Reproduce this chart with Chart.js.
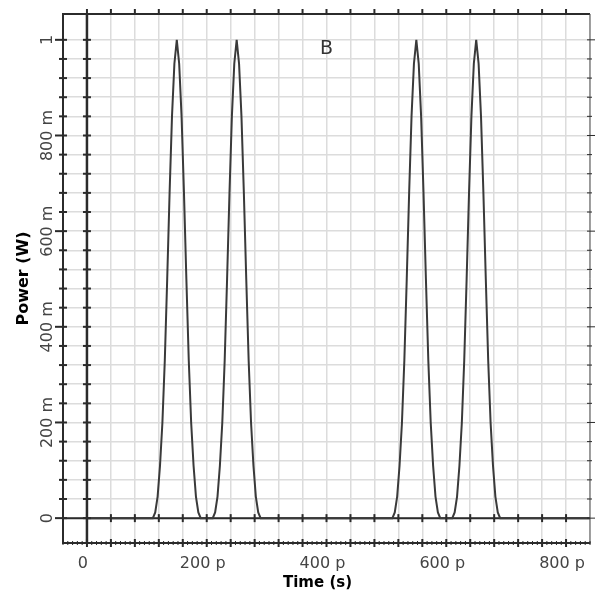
<!DOCTYPE html>
<html>
<head>
<meta charset="UTF-8">
<title>Power (W) vs Time (s)</title>
<script src="https://cdn.jsdelivr.net/npm/chart.js"></script>
<style>
  html, body { margin: 0; padding: 0; background: #fff; }
</style>
</head>
<body>
<canvas id="powerChart" width="609" height="598"></canvas>
<script>
// time in ps, power in W (four pulses)
const timePs = [0,
  110, 114, 118, 122, 126, 130, 134, 138, 142, 146, 150, 154, 158, 162, 166, 170, 174, 178, 182, 186, 190,
  210, 214, 218, 222, 226, 230, 234, 238, 242, 246, 250, 254, 258, 262, 266, 270, 274, 278, 282, 286, 290,
  510, 514, 518, 522, 526, 530, 534, 538, 542, 546, 550, 554, 558, 562, 566, 570, 574, 578, 582, 586, 590,
  610, 614, 618, 622, 626, 630, 634, 638, 642, 646, 650, 654, 658, 662, 666, 670, 674, 678, 682, 686, 690,
  840];
const powerW = [0,
  0, 0.012, 0.045, 0.11, 0.2, 0.33, 0.5, 0.68, 0.84, 0.95, 1, 0.95, 0.84, 0.68, 0.5, 0.33, 0.2, 0.11, 0.045, 0.012, 0,
  0, 0.012, 0.045, 0.11, 0.2, 0.33, 0.5, 0.68, 0.84, 0.95, 1, 0.95, 0.84, 0.68, 0.5, 0.33, 0.2, 0.11, 0.045, 0.012, 0,
  0, 0.012, 0.045, 0.11, 0.2, 0.33, 0.5, 0.68, 0.84, 0.95, 1, 0.95, 0.84, 0.68, 0.5, 0.33, 0.2, 0.11, 0.045, 0.012, 0,
  0, 0.012, 0.045, 0.11, 0.2, 0.33, 0.5, 0.68, 0.84, 0.95, 1, 0.95, 0.84, 0.68, 0.5, 0.33, 0.2, 0.11, 0.045, 0.012, 0,
  0];

const xTickValues = [0, 200, 400, 600, 800];
const xTickLabels = ['0', '200 p', '400 p', '600 p', '800 p'];
const yTickValues = [0, 0.2, 0.4, 0.6, 0.8, 1];
const yTickLabels = ['0', '200 m', '400 m', '600 m', '800 m', '1'];
const xTitle = 'Time (s)';
const markerText = 'B';
const markerAt = [400, 0.98];

function labelFor(values, labels, v) {
  const i = values.findIndex(t => Math.abs(t - v) < 1e-6);
  return i < 0 ? '' : labels[i];
}

function seg(ctx, x1, y1, x2, y2) {
  ctx.beginPath();
  ctx.moveTo(x1, y1);
  ctx.lineTo(x2, y2);
  ctx.stroke();
}

// frame, zero axes, tick marks, rotated y labels, x title and the "B" marker
const framePlugin = {
  id: 'framePlugin',
  beforeDatasetsDraw(chart) {
    const { ctx, chartArea: a, scales: { x, y } } = chart;
    const px0 = x.getPixelForValue(0);
    const py0 = y.getPixelForValue(0);
    ctx.save();
    ctx.strokeStyle = '#2b2b2b';
    ctx.lineWidth = 2.5;
    seg(ctx, px0, a.top, px0, a.bottom);
    ctx.lineWidth = 2;
    seg(ctx, a.left, py0, a.right, py0);
    ctx.restore();
  },
  afterDraw(chart) {
    const { ctx, chartArea: a, scales: { x, y } } = chart;
    const px0 = x.getPixelForValue(0);
    const py0 = y.getPixelForValue(0);
    ctx.save();
    ctx.strokeStyle = '#2b2b2b';

    // top + right frame
    ctx.lineWidth = 2;
    seg(ctx, a.left, a.top, a.right, a.top);
    ctx.lineWidth = 1;
    ctx.strokeStyle = '#555';
    seg(ctx, a.right, a.top, a.right, a.bottom);
    ctx.strokeStyle = '#2b2b2b';

    // y ticks
    y.ticks.forEach(t => {
      const v = t.value;
      if (v < -0.001 || v > 1.045) return;
      const py = y.getPixelForValue(v);
      const major = labelFor(yTickValues, yTickLabels, v) !== '';
      ctx.lineWidth = 2;
      seg(ctx, a.left - (major ? 8 : 4), py, a.left + 4, py);
      seg(ctx, px0 - 4, py, px0 + 4, py);
      ctx.lineWidth = 1;
      seg(ctx, a.right - 3, py, a.right + (major ? 5 : 2), py);
    });

    // x ticks
    x.ticks.forEach(t => {
      const v = t.value;
      if (v < -39 || v > 839) return;
      const px = x.getPixelForValue(v);
      ctx.lineWidth = 2;
      seg(ctx, px, a.top - 5, px, a.top + 1);
      seg(ctx, px, a.bottom - 4, px, a.bottom + 4);
      seg(ctx, px, py0 - 4, px, py0 + 4);
    });
    ctx.lineWidth = 1;
    for (let v = -40; v <= 840; v += 8) {
      const px = x.getPixelForValue(v);
      seg(ctx, px, a.bottom - 2, px, a.bottom + 2);
    }

    // rotated y labels
    ctx.fillStyle = '#444';
    ctx.font = '16px "DejaVu Sans"';
    ctx.textAlign = 'center';
    ctx.textBaseline = 'alphabetic';
    yTickValues.forEach((v, i) => {
      ctx.save();
      ctx.translate(a.left - 11, y.getPixelForValue(v));
      ctx.rotate(-Math.PI / 2);
      ctx.fillText(yTickLabels[i], 0, 0);
      ctx.restore();
    });

    // x title, sits a little left of the plot centre
    ctx.fillStyle = '#000';
    ctx.font = 'bold 15px "DejaVu Sans"';
    ctx.textBaseline = 'middle';
    ctx.fillText(xTitle, x.getPixelForValue(385), 583);

    // marker letter
    ctx.fillStyle = '#333';
    ctx.font = '19px "DejaVu Sans"';
    ctx.fillText(markerText, x.getPixelForValue(markerAt[0]), y.getPixelForValue(markerAt[1]));
    ctx.restore();
  }
};

new Chart(document.getElementById('powerChart'), {
  type: 'line',
  data: {
    labels: timePs,
    datasets: [{
      data: timePs.map((t, i) => ({ x: t, y: powerW[i] })),
      borderColor: '#3a3a3a',
      borderWidth: 2,
      pointRadius: 0,
      tension: 0,
      fill: false
    }]
  },
  options: {
    responsive: false,
    animation: false,
    layout: { padding: { top: 14, right: 19, left: 0, bottom: 0 } },
    plugins: { legend: { display: false }, tooltip: { enabled: false } },
    scales: {
      x: {
        type: 'linear',
        min: -40,
        max: 840,
        afterFit: s => { s.height = 55; },
        border: { display: true, color: '#2b2b2b', width: 2 },
        grid: { color: '#dcdcdc', lineWidth: 1.5, drawTicks: false },
        ticks: {
          stepSize: 40,
          autoSkip: false,
          maxRotation: 0,
          padding: 11,
          labelOffset: -4,
          color: '#444',
          font: { family: 'DejaVu Sans', size: 16 },
          callback: v => labelFor(xTickValues, xTickLabels, v)
        }
      },
      y: {
        type: 'linear',
        min: -0.052,
        max: 1.054,
        afterFit: s => { s.width = 63; },
        border: { display: true, color: '#2b2b2b', width: 2 },
        grid: { color: '#dcdcdc', lineWidth: 1.5, drawTicks: false },
        ticks: { stepSize: 0.04, display: false },
        title: {
          display: true,
          text: 'Power (W)',
          color: '#000',
          font: { family: 'DejaVu Sans', size: 16, weight: 'bold' },
          padding: { top: 14, bottom: 14 }
        }
      }
    }
  },
  plugins: [framePlugin]
});
</script>
</body>
</html>
